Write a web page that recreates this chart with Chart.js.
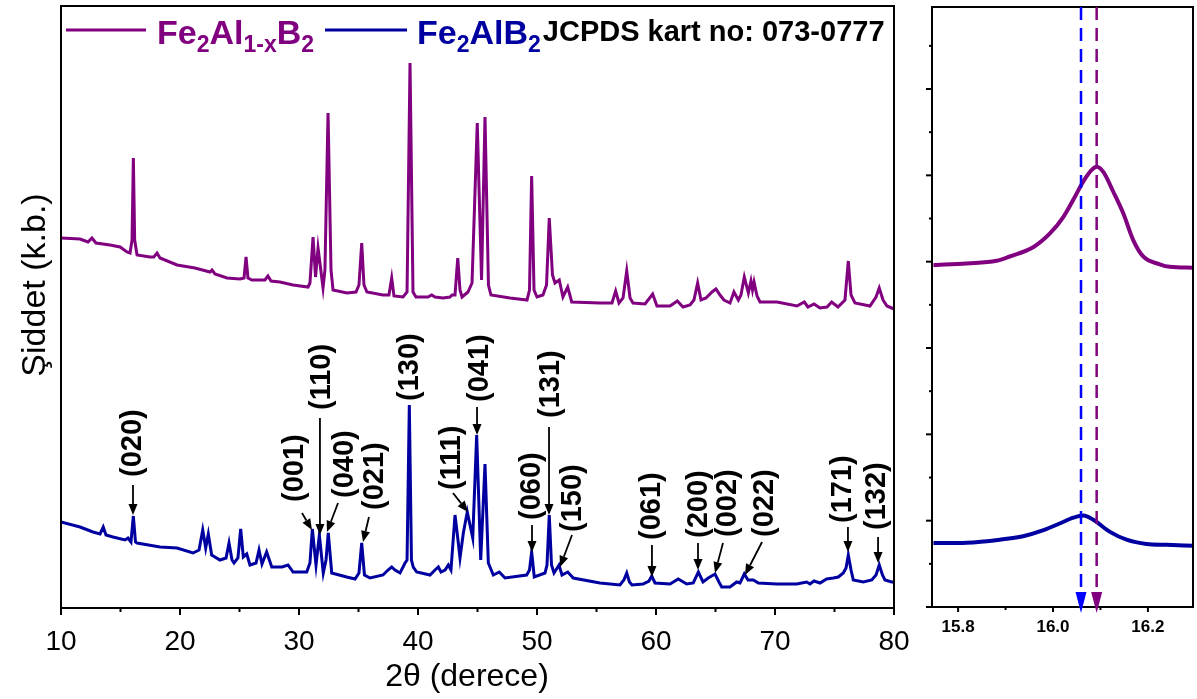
<!DOCTYPE html>
<html>
<head>
<meta charset="utf-8">
<script src="https://cdn.jsdelivr.net/npm/chart.js@4.4.0/dist/chart.umd.min.js"></script>
<style>
  body { margin: 0; background: #fff; }
  #wrap { position: relative; width: 1197px; height: 699px; }
  #main { position: absolute; left: 0; top: 0; }
  #zoom { position: absolute; left: 912px; top: 0; }
</style>
</head>
<body>
<div id="wrap">
  <canvas id="main" width="912" height="699"></canvas>
  <canvas id="zoom" width="285" height="699"></canvas>
</div>
<script>
// XRD patterns, 2theta (degree) and intensity (arb. units)
const purpleTheta = [10.0, 11.6, 12.27, 12.6, 12.94, 14.12, 14.96, 15.55, 15.8, 15.97,
  16.08, 16.19, 16.39, 17.48, 17.8, 18.07, 18.32, 19.75, 21.26, 22.52,
  22.69, 22.94, 23.95, 25.04, 25.38, 25.55, 25.71, 26.05, 27.14, 27.39,
  27.65, 28.4, 29.5, 30.76, 30.92, 31.18, 31.39, 31.6, 32.02, 32.18,
  32.44, 32.69, 32.86, 34.03, 34.79, 35.04, 35.27, 35.46, 35.71, 37.06,
  37.56, 37.79, 37.98, 38.74, 39.08, 39.33, 39.58, 39.83, 40.84, 41.15,
  41.43, 42.1, 42.69, 42.86, 43.11, 43.34, 43.53, 43.7, 44.2, 44.54,
  44.98, 45.34, 45.63, 45.92, 46.13, 47.73, 49.16, 49.37, 49.55, 49.75,
  50.0, 50.5, 50.8, 51.03, 51.3, 51.51, 51.87, 52.18, 52.58, 52.92,
  55.29, 56.3, 56.61, 56.89, 57.23, 57.54, 57.82, 58.07, 59.08, 59.72,
  60.08, 61.18, 61.79, 62.27, 62.86, 63.19, 63.5, 63.78, 64.2, 64.71,
  65.04, 65.38, 65.71, 66.22, 66.55, 66.92, 67.14, 67.42, 67.76, 67.98,
  68.11, 68.24, 68.49, 68.74, 70.17, 71.85, 72.46, 72.77, 73.28, 73.78,
  74.37, 74.76, 75.29, 75.88, 76.16, 76.39, 76.72, 77.98, 78.49, 78.76,
  79.08, 79.41, 80.0];
const purpleCounts = [370, 369, 366, 370, 365, 363, 361, 356, 355, 368,
  450, 368, 353, 351, 351, 355, 350, 343, 340, 336,
  338, 334, 330, 329, 330, 351, 330, 328, 328, 332,
  327, 326, 323, 321, 325, 371, 331, 360, 320, 338,
  495, 338, 318, 315, 316, 323, 365, 323, 316, 313,
  313, 330, 312, 311, 316, 545, 316, 311, 311, 313,
  311, 310, 311, 313, 313, 350, 318, 311, 316, 325,
  485, 328, 491, 323, 313, 310, 308, 318, 432, 318,
  311, 313, 323, 390, 333, 325, 328, 311, 321, 306,
  305, 305, 317, 305, 310, 337, 310, 305, 304, 314,
  302, 302, 307, 301, 303, 308, 325, 308, 310, 316,
  319, 313, 308, 305, 316, 308, 313, 331, 315, 327,
  318, 326, 312, 306, 306, 302, 306, 301, 304, 300,
  301, 306, 301, 308, 347, 313, 305, 302, 311, 320,
  308, 302, 299];

const blueTheta = [10.0, 11.6, 12.69, 13.28, 13.55, 13.78, 14.37, 15.38, 15.63, 15.88,
  16.08, 16.26, 16.39, 18.32, 19.75, 21.09, 21.6, 21.91, 22.16, 22.38,
  22.66, 23.36, 23.87, 24.12, 24.37, 24.54, 24.87, 25.1, 25.32, 25.61,
  25.88, 26.39, 26.64, 26.89, 27.28, 27.71, 28.57, 29.08, 29.5, 30.65,
  30.92, 31.12, 31.43, 31.71, 32.04, 32.27, 32.46, 32.75, 34.01, 34.71,
  35.04, 35.27, 35.5, 35.97, 37.06, 37.48, 37.79, 38.07, 38.49, 38.91,
  39.08, 39.27, 39.45, 39.6, 39.89, 41.01, 41.43, 41.71, 41.93, 42.27,
  42.55, 42.77, 43.11, 43.36, 43.53, 43.81, 44.14, 44.37, 44.6, 44.93,
  45.27, 45.63, 45.91, 46.33, 46.83, 47.31, 49.13, 49.37, 49.55, 49.77,
  50.67, 50.84, 51.03, 51.22, 51.43, 51.85, 52.1, 52.58, 53.05, 55.29,
  56.97, 57.3, 57.54, 57.77, 57.98, 58.91, 59.41, 59.64, 59.92, 61.18,
  61.87, 62.58, 63.13, 63.56, 63.95, 64.39, 64.96, 65.29, 65.52, 66.22,
  66.78, 67.06, 67.42, 67.73, 68.18, 68.6, 70.14, 71.82, 72.66, 72.94,
  73.28, 73.78, 74.34, 74.9, 75.32, 75.74, 75.97, 76.16, 76.39, 76.58,
  77.42, 78.13, 78.49, 78.76, 79.03, 79.24, 79.8, 80.0];
const blueCounts = [86, 81, 76, 74, 81, 73, 71, 68, 70, 66,
  92, 66, 65, 61, 60, 55, 58, 78, 60, 74,
  53, 48, 50, 65, 48, 45, 50, 79, 51, 54,
  43, 45, 58, 44, 56, 41, 41, 43, 36, 36,
  45, 79, 43, 73, 35, 48, 75, 35, 31, 29,
  35, 65, 33, 30, 33, 38, 41, 38, 35, 45,
  48, 203, 48, 41, 36, 33, 38, 41, 36, 38,
  43, 38, 93, 68, 50, 75, 96, 83, 70, 173,
  48, 144, 45, 33, 36, 30, 33, 38, 56, 31,
  35, 43, 93, 43, 35, 43, 33, 36, 30, 25,
  23, 28, 35, 26, 23, 24, 27, 32, 25, 24,
  29, 24, 25, 36, 26, 30, 34, 26, 21, 21,
  26, 25, 34, 28, 28, 25, 24, 24, 26, 24,
  27, 25, 29, 30, 31, 35, 40, 53, 38, 28,
  26, 28, 33, 43, 33, 28, 26, 26];

// (hkl) marks of the Fe2AlB2 pattern
const hklLabels = ['(020)', '(001)', '(110)', '(040)', '(021)', '(130)', '(111)', '(041)', '(060)',
  '(131)', '(150)', '(061)', '(200)', '(002)', '(022)', '(171)', '(132)'];
const hklX = [16.05, 29.66, 31.93, 33.87, 36.39, 39.33, 42.86, 45.21, 49.58,
  51.18, 53.03, 59.66, 63.61, 66.05, 69.16, 75.71, 78.57];
const hklY = [131, 106, 198, 110, 98, 207, 118, 206, 88,
  190, 76, 68, 70, 71, 71, 85, 78];
const arrowFromX = [16.05, 30.25, 31.76, 33.28, 35.88, null, 42.94, 44.96, 49.58,
  51.01, 52.94, 59.66, 63.53, 65.63, 68.91, 76.13, 78.66];
const arrowFromY = [123, 95, 190, 105, 91, null, 115, 201, 83,
  181, 73, 63, 65, 65, 66, 81, 71];
const arrowToX = [16.05, 31.09, 31.76, 32.35, 35.38, null, 44.2, 44.96, 49.58,
  51.01, 51.93, 59.66, 63.53, 64.96, 67.48, 76.13, 78.66];
const arrowToY = [93, 78, 73, 76, 66, null, 96, 173, 56,
  93, 41, 31, 38, 35, 33, 56, 45];

// (020) reflection, zoomed
const zoomPurpleTheta = [15.748, 15.818, 15.881, 15.909, 15.959, 15.994, 16.022, 16.043, 16.064, 16.081,
  16.092, 16.106, 16.127, 16.148, 16.169, 16.19, 16.225, 16.246, 16.295];
const zoomPurple = [3.96, 3.98, 4.01, 4.06, 4.17, 4.33, 4.52, 4.72, 4.93, 5.06,
  5.10, 5.04, 4.81, 4.56, 4.25, 4.06, 3.97, 3.94, 3.93];
const zoomBlueTheta = [15.748, 15.818, 15.888, 15.937, 15.98, 16.015, 16.043, 16.064, 16.085, 16.12,
  16.155, 16.197, 16.239, 16.295];
const zoomBlue = [0.74, 0.745, 0.78, 0.82, 0.89, 0.97, 1.035, 1.06, 1.01, 0.87,
  0.78, 0.73, 0.72, 0.71];
const peakBlue = 16.059;
const peakPurple = 16.092;

const mainMajor = [10, 20, 30, 40, 50, 60, 70, 80];
const mainMinor = [15, 25, 35, 45, 55, 65, 75];
const zoomMajor = [15.8, 16.0, 16.2];
const zoomMinor = [15.9, 16.1];
const zoomYMajor = [0, 1, 2, 3, 4, 5, 6];
const zoomYMinor = [0.5, 1.5, 2.5, 3.5, 4.5, 5.5, 6.5];

const FONT = '"Liberation Sans", Arial, sans-serif';
const PURPLE = '#800080';
const NAVY = '#0000a0';

const pts = (xs, ys) => xs.map((v, i) => ({ x: v, y: ys[i] }));

function seg(ctx, x0, y0, x1, y1) {
  ctx.beginPath(); ctx.moveTo(x0, y0); ctx.lineTo(x1, y1); ctx.stroke();
}

function arrow(ctx, x0, y0, x1, y1, len, half) {
  const a = Math.atan2(y1 - y0, x1 - x0);
  const bx = x1 - len * Math.cos(a), by = y1 - len * Math.sin(a);
  seg(ctx, x0, y0, bx, by);
  ctx.beginPath();
  ctx.moveTo(x1, y1);
  ctx.lineTo(bx + half * Math.sin(a), by - half * Math.cos(a));
  ctx.lineTo(bx - half * Math.sin(a), by + half * Math.cos(a));
  ctx.closePath(); ctx.fill();
}

// text with subscripts: parts = [[text, isSub], ...]
function rich(ctx, parts, x, base, color) {
  ctx.fillStyle = color;
  ctx.textAlign = 'left'; ctx.textBaseline = 'alphabetic';
  parts.forEach(([t, sub]) => {
    ctx.font = sub ? 'bold 23px ' + FONT : 'bold 34px ' + FONT;
    ctx.fillText(t, x, sub ? base + 8 : base);
    x += ctx.measureText(t).width;
  });
  return x;
}

const mainDecor = {
  id: 'mainDecor',
  afterDraw(chart) {
    const { ctx, chartArea: a, scales: { x, y } } = chart;
    ctx.save();
    ctx.strokeStyle = '#000'; ctx.fillStyle = '#000';
    ctx.lineWidth = 2;
    ctx.strokeRect(a.left, a.top, a.right - a.left, a.bottom - a.top);
    mainMajor.forEach(v => { const p = x.getPixelForValue(v); seg(ctx, p, a.bottom, p, a.bottom + 7); });
    mainMinor.forEach(v => { const p = x.getPixelForValue(v); seg(ctx, p, a.bottom, p, a.bottom + 4); });

    // axis titles, both sit a little off centre as in the original
    ctx.save();
    ctx.translate(36, a.top + 279);
    ctx.rotate(-Math.PI / 2);
    ctx.font = '34px ' + FONT;
    ctx.textAlign = 'center'; ctx.textBaseline = 'middle';
    ctx.fillText('Şiddet (k.b.)', 0, 0);
    ctx.restore();
    ctx.font = '32px ' + FONT;
    ctx.textAlign = 'center'; ctx.textBaseline = 'alphabetic';
    ctx.fillText('2θ (derece)', 467, 686);

    // hkl labels and arrows
    ctx.font = 'bold 29px ' + FONT;
    hklLabels.forEach((t, i) => {
      ctx.save();
      ctx.translate(x.getPixelForValue(hklX[i]), y.getPixelForValue(hklY[i]));
      ctx.rotate(-Math.PI / 2);
      ctx.textAlign = 'left'; ctx.textBaseline = 'middle';
      ctx.fillText(t, 0, 0);
      ctx.restore();
      if (arrowFromX[i] !== null) {
        ctx.lineWidth = 1.8;
        arrow(ctx, x.getPixelForValue(arrowFromX[i]), y.getPixelForValue(arrowFromY[i]),
          x.getPixelForValue(arrowToX[i]), y.getPixelForValue(arrowToY[i]), 11, 4.5);
      }
    });

    // legend
    ctx.lineWidth = 3;
    ctx.strokeStyle = PURPLE; seg(ctx, a.left + 5, a.top + 24, a.left + 85, a.top + 24);
    rich(ctx, [['Fe', false], ['2', true], ['Al', false], ['1-x', true], ['B', false], ['2', true]],
      a.left + 96, a.top + 38, PURPLE);
    ctx.strokeStyle = NAVY; seg(ctx, a.left + 264, a.top + 24, a.left + 346, a.top + 24);
    const end = rich(ctx, [['Fe', false], ['2', true], ['Al', false], ['B', false], ['2', true]],
      a.left + 356, a.top + 38, NAVY);
    ctx.font = 'bold 29px ' + FONT;
    ctx.fillStyle = '#000';
    ctx.fillText('JCPDS kart no: 073-0777', end + 2, a.top + 35);
    ctx.restore();
  }
};

const zoomDecor = {
  id: 'zoomDecor',
  afterDraw(chart) {
    const { ctx, chartArea: a, scales: { x, y } } = chart;
    ctx.save();
    ctx.strokeStyle = '#000'; ctx.lineWidth = 2;
    ctx.strokeRect(a.left, a.top, a.right - a.left, a.bottom - a.top);
    zoomMajor.forEach(v => { const p = x.getPixelForValue(v); seg(ctx, p, a.bottom, p, a.bottom + 5); });
    zoomMinor.forEach(v => { const p = x.getPixelForValue(v); seg(ctx, p, a.bottom, p, a.bottom + 3); });
    zoomYMajor.forEach(v => { const p = y.getPixelForValue(v); seg(ctx, a.left, p, a.left - 6, p); });
    zoomYMinor.forEach(v => { const p = y.getPixelForValue(v); seg(ctx, a.left, p, a.left - 3, p); });

    [[peakBlue, '#0000ff'], [peakPurple, PURPLE]].forEach(([v, c]) => {
      const p = x.getPixelForValue(v);
      ctx.strokeStyle = c; ctx.fillStyle = c; ctx.lineWidth = 2.5;
      ctx.setLineDash([13, 8]);
      seg(ctx, p, a.top, p, a.bottom - 16);
      ctx.setLineDash([]);
      ctx.beginPath();
      ctx.moveTo(p - 5.5, a.bottom - 15);
      ctx.lineTo(p + 5.5, a.bottom - 15);
      ctx.lineTo(p, a.bottom + 6);
      ctx.closePath(); ctx.fill();
    });
    ctx.restore();
  }
};

new Chart(document.getElementById('main'), {
  type: 'line',
  data: {
    datasets: [
      { label: 'Fe2Al1-xB2', data: pts(purpleTheta, purpleCounts), borderColor: PURPLE,
        borderWidth: 3, pointRadius: 0, tension: 0 },
      { label: 'Fe2AlB2', data: pts(blueTheta, blueCounts), borderColor: NAVY,
        borderWidth: 3, pointRadius: 0, tension: 0 }
    ]
  },
  options: {
    responsive: false, animation: false, devicePixelRatio: 1,
    layout: { padding: { top: 6, right: 18, left: 0, bottom: 0 } },
    plugins: { legend: { display: false }, tooltip: { enabled: false } },
    scales: {
      x: {
        type: 'linear', min: 10, max: 80,
        afterFit: s => { s.height = 91; s.paddingLeft = 0; s.paddingRight = 0; },
        grid: { display: true, drawOnChartArea: false, drawTicks: false },
        border: { display: false },
        ticks: { stepSize: 10, font: { family: FONT, size: 28 }, color: '#000', padding: 17, maxRotation: 0 },
        title: { display: false }
      },
      y: {
        type: 'linear', min: 0, max: 602,
        afterFit: s => { s.width = 61; },
        grid: { display: false }, border: { display: false },
        ticks: { display: false },
        title: { display: false }
      }
    }
  },
  plugins: [mainDecor]
});

new Chart(document.getElementById('zoom'), {
  type: 'line',
  data: {
    datasets: [
      { label: 'Fe2Al1-xB2', data: pts(zoomPurpleTheta, zoomPurple), borderColor: PURPLE,
        borderWidth: 4, pointRadius: 0, cubicInterpolationMode: 'monotone' },
      { label: 'Fe2AlB2', data: pts(zoomBlueTheta, zoomBlue), borderColor: NAVY,
        borderWidth: 4, pointRadius: 0, cubicInterpolationMode: 'monotone' }
    ]
  },
  options: {
    responsive: false, animation: false, devicePixelRatio: 1,
    layout: { padding: { top: 7, right: 4, left: 0, bottom: 0 } },
    plugins: { legend: { display: false }, tooltip: { enabled: false } },
    scales: {
      x: {
        type: 'linear', min: 15.745, max: 16.295,
        afterBuildTicks: s => { s.ticks = zoomMajor.map(v => ({ value: v })); },
        afterFit: s => { s.height = 92; },
        grid: { display: true, drawOnChartArea: false, drawTicks: false },
        border: { display: false },
        ticks: { font: { family: FONT, size: 17, weight: 'bold' }, color: '#000', padding: 10,
          maxRotation: 0, callback: v => v.toFixed(1) }
      },
      y: {
        type: 'linear', min: 0, max: 6.95,
        afterFit: s => { s.width = 20; },
        grid: { display: false }, border: { display: false },
        ticks: { display: false }
      }
    }
  },
  plugins: [zoomDecor]
});
</script>
</body>
</html>
